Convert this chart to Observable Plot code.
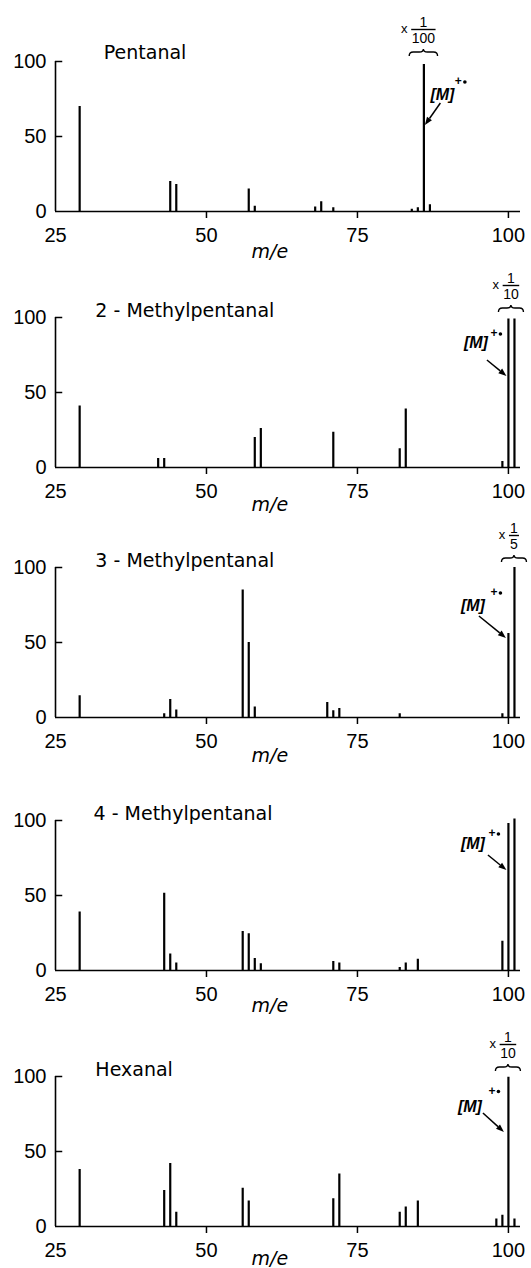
<!DOCTYPE html>
<html>
<head>
<meta charset="utf-8">
<script src="https://cdn.jsdelivr.net/npm/d3@7"></script>
<script src="https://cdn.jsdelivr.net/npm/@observablehq/plot@0.6"></script>
<style>
  body { margin: 0; background: #fff; }
  #chart { width: 531px; }
  #chart svg { display: block; }
</style>
</head>
<body>
<div id="chart"></div>
<script>
// ---------- DATA ----------
const compounds = ["Pentanal", "2 - Methylpentanal", "3 - Methylpentanal", "4 - Methylpentanal", "Hexanal"];

const pentanalMz  = [29, 44, 45, 57, 58, 68, 69, 71, 84, 85, 86, 87];
const pentanalInt = [70, 20, 18, 15, 3.5, 3, 6.5, 2.5, 1.5, 2.5, 98, 4.5];

const methyl2Mz  = [29, 42, 43, 58, 59, 71, 82, 83, 99, 100, 101];
const methyl2Int = [41, 6, 6, 20, 26, 23.5, 12.5, 39, 4, 99, 99];

const methyl3Mz  = [29, 43, 44, 45, 56, 57, 58, 70, 71, 72, 82, 99, 100, 101];
const methyl3Int = [14.5, 2.5, 12, 5, 85, 50, 7, 10, 4.5, 6, 2.5, 2.5, 56, 100];

const methyl4Mz  = [29, 43, 44, 45, 56, 57, 58, 59, 71, 72, 82, 83, 85, 99, 100, 101];
const methyl4Int = [39, 51.5, 11, 5, 26, 24.5, 8, 4.5, 6, 5, 2, 5, 7.5, 19.5, 98, 101];

const hexanalMz  = [29, 43, 44, 45, 56, 57, 71, 72, 82, 83, 85, 98, 99, 100, 101];
const hexanalInt = [38, 24, 42, 9.5, 25.5, 17, 18.5, 35, 9.5, 13, 17, 5, 7.5, 99.5, 5];

const xTicks = [25, 50, 75, 100];
const xTickMarks = [50, 75, 100];
const yTicks = [0, 50, 100];
const yTickMarks = [50, 100];

// reduction factor annotations ("x 1/n") and molecular ion positions
const scaleDenominators = ["100", "10", "5", null, "10"];
const scaleMz = [86, 100.5, 101, null, 100];
const molecularIonMz = [86, 100, 100, 100, 100];
const axisLabel = "m/e";

// ---------- LAYOUT (not data) ----------
const panelHeights = [256, 250, 253, 256, 253];
const marginTop = 61, plotH = 150;
const labelOffsets = [
  {lx: 19,   ly: 33, sx: 37,  sy: 20,  ax1: 17,  ay1: 42, ax2: 1.5,  ay2: 64},
  {lx: -32,  ly: 25, sx: -12, sy: 16,  ax1: -21, ay1: 43, ax2: -1.5, ay2: 59},
  {lx: -35,  ly: 38, sx: -12, sy: 25,  ax1: -29, ay1: 49, ax2: -2,   ay2: 71},
  {lx: -35,  ly: 23, sx: -14, sy: 13,  ax1: -20, ay1: 35, ax2: -1.5, ay2: 50},
  {lx: -38,  ly: 30, sx: -14, sy: 14.5,ax1: -25, ay1: 37, ax2: -4,   ay2: 56}
];
const titleX = [33, 31.6, 31.6, 31.3, 31.6];
const titleDy = [-3, -1, -1, -1, -1];
const axisLabelDy = [46, 43, 44, 41, 38];

const spectra = [
  [pentanalMz, pentanalInt],
  [methyl2Mz, methyl2Int],
  [methyl3Mz, methyl3Int],
  [methyl4Mz, methyl4Int],
  [hexanalMz, hexanalInt]
].map(([mz, inten]) => mz.map((m, i) => ({mz: m, i: inten[i]})));

const container = document.getElementById("chart");

spectra.forEach((rows, p) => {
  const H = panelHeights[p];
  const chart = Plot.plot({
    width: 531,
    height: H,
    marginLeft: 55,
    marginRight: 11,
    marginTop: marginTop,
    marginBottom: H - marginTop - plotH,
    style: {fontFamily: "'Liberation Sans', Arial, sans-serif", fontSize: "20px", background: "#fff", color: "#000", overflow: "visible"},
    x: {domain: [25, 102]},
    y: {domain: [0, 100]},
    marks: [
      // axes
      Plot.ruleY([0], {x1: 25, x2: 102, stroke: "#000", strokeWidth: 1.6}),
      Plot.ruleX([25], {y1: 0, y2: 100, stroke: "#000", strokeWidth: 1.6}),
      Plot.ruleY(yTickMarks, {x1: 25, x2: 26.2, stroke: "#000", strokeWidth: 1.5}),
      Plot.axisY(yTicks, {tickSize: 0, tickPadding: 9, fontSize: 20, label: null}),
      Plot.axisX(xTickMarks, {tickSize: 7, tickFormat: () => "", label: null, strokeWidth: 1.5}),
      Plot.axisX(xTicks, {tickSize: 0, tickPadding: 16, fontSize: 20, label: null}),
      // spectrum lines
      Plot.ruleX(rows, {x: "mz", y1: 0, y2: "i", stroke: "#000", strokeWidth: 2.2}),
      // title
      Plot.text([compounds[p]], {x: titleX[p], y: 100, text: d => d, textAnchor: "start", lineAnchor: "bottom",
        fontSize: 19, fontFamily: "'DejaVu Sans', sans-serif", dy: titleDy[p]}),
      // m/e label
      Plot.text([axisLabel], {x: 60.5, text: d => d, frameAnchor: "bottom", dy: axisLabelDy[p],
        fontSize: 19, fontStyle: "italic", fontFamily: "'DejaVu Sans', sans-serif"})
    ]
  });
  container.appendChild(chart);

  const xs = chart.scale("x").apply, ys = chart.scale("y").apply;
  const g = d3.select(chart).append("g").attr("fill", "#000").attr("font-family", "'Liberation Sans', Arial, sans-serif");
  const y100 = ys(100);

  // reduction factor "x 1/n" with brace
  const den = scaleDenominators[p];
  if (den) {
    const cx = xs(scaleMz[p]);
    g.append("text").attr("x", cx).attr("y", y100 - 39).attr("text-anchor", "middle")
      .attr("dominant-baseline", "central").attr("font-size", 14).text("1");
    const dt = g.append("text").attr("x", cx).attr("y", y100 - 23).attr("text-anchor", "middle")
      .attr("dominant-baseline", "central").attr("font-size", 14).text(den);
    const lw = Math.max(10, dt.node().getComputedTextLength() + 1);
    g.append("line").attr("x1", cx - lw / 2).attr("x2", cx + lw / 2)
      .attr("y1", y100 - 31.5).attr("y2", y100 - 31.5).attr("stroke", "#000").attr("stroke-width", 1.4);
    g.append("text").attr("x", cx - lw / 2 - 7).attr("y", y100 - 33).attr("text-anchor", "middle")
      .attr("dominant-baseline", "central").attr("font-size", 13).text("x");
    const hw = Math.max(12.5, lw / 2 + 2);
    const yb = y100 - 9;
    g.append("path").attr("fill", "none").attr("stroke", "#000").attr("stroke-width", 1.4)
      .attr("d", `M${cx - hw},${yb + 4} Q${cx - hw},${yb} ${cx - hw + 4},${yb} L${cx - 4},${yb} Q${cx},${yb} ${cx},${yb - 3} Q${cx},${yb} ${cx + 4},${yb} L${cx + hw - 4},${yb} Q${cx + hw},${yb} ${cx + hw},${yb + 4}`);
  }

  // molecular ion label with arrow
  const o = labelOffsets[p];
  const bx = xs(molecularIonMz[p]);
  g.append("text").attr("x", bx + o.lx).attr("y", y100 + o.ly).attr("text-anchor", "middle")
    .attr("dominant-baseline", "central").attr("font-size", 16).attr("font-style", "italic")
    .attr("font-weight", "bold").text("[M]");
  // superscript "+•" (plus sign and radical dot)
  g.append("text").attr("x", bx + o.sx - 2).attr("y", y100 + o.sy).attr("text-anchor", "middle")
    .attr("dominant-baseline", "central").attr("font-size", 12).attr("font-weight", "bold").text("+");
  g.append("circle").attr("cx", bx + o.sx + 4.5).attr("cy", y100 + o.sy + 1).attr("r", 1.8);
  const x1 = bx + o.ax1, y1 = y100 + o.ay1, x2 = bx + o.ax2, y2 = y100 + o.ay2;
  const ang = Math.atan2(y2 - y1, x2 - x1), L = 8, W = 3;
  const xb = x2 - L * Math.cos(ang), ybk = y2 - L * Math.sin(ang);
  g.append("line").attr("x1", x1).attr("y1", y1).attr("x2", xb).attr("y2", ybk)
    .attr("stroke", "#000").attr("stroke-width", 1.5);
  g.append("path").attr("d", `M${x2},${y2} L${xb - W * Math.sin(ang)},${ybk + W * Math.cos(ang)} L${xb + W * Math.sin(ang)},${ybk - W * Math.cos(ang)} Z`);
});
</script>
</body>
</html>
